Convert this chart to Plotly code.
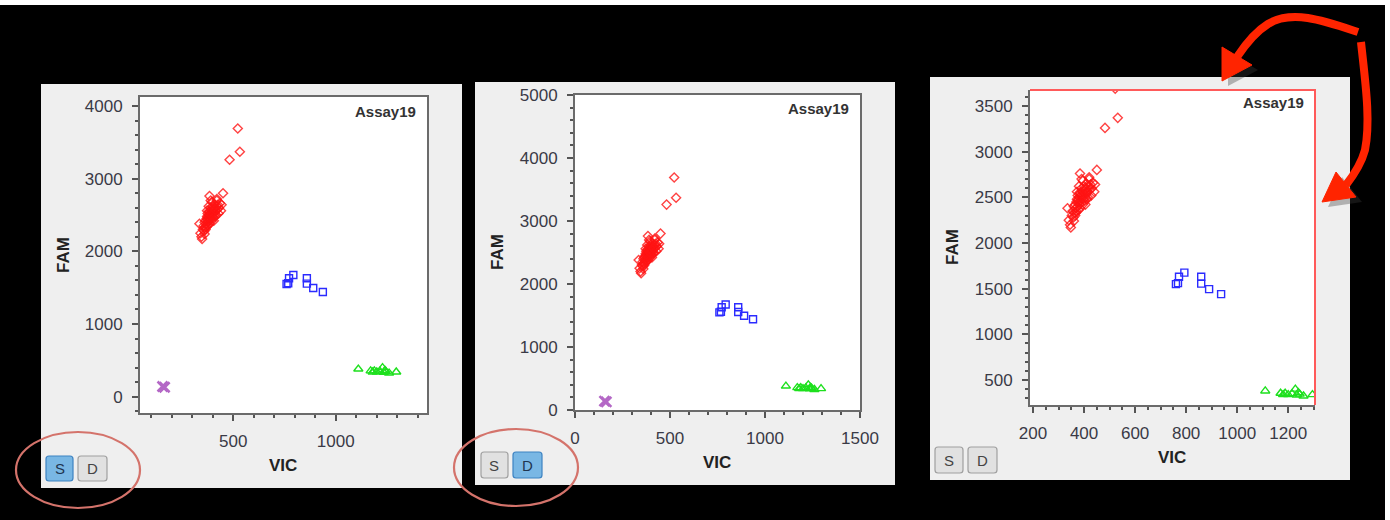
import plotly.graph_objects as go

# ---------------- data ----------------
red_vic = [340, 345, 348, 352, 355, 358, 360, 362, 365, 365, 368, 370, 370, 372, 375,
           375, 378, 378, 380, 380, 382, 385, 385, 388, 390, 390, 392, 395, 395, 398,
           400, 400, 402, 405, 405, 408, 410, 410, 412, 415, 418, 420, 422, 425, 428,
           430, 435, 440, 443, 450, 335, 384, 390, 420, 360, 372, 395, 405, 415, 380,
           368, 376, 386, 394, 402, 412,
           482, 532, 522]
red_fam = [2250, 2200, 2170, 2300, 2350, 2280, 2400, 2330, 2420, 2300, 2380, 2450, 2350, 2480, 2400,
           2520, 2440, 2360, 2500, 2420, 2550, 2460, 2380, 2520, 2600, 2440, 2500, 2560, 2420, 2480,
           2620, 2540, 2460, 2580, 2500, 2650, 2540, 2600, 2480, 2560, 2620, 2700, 2580, 2640, 2520,
           2600, 2660, 2560, 2640, 2800, 2380, 2760, 2700, 2720, 2240, 2560, 2680, 2420, 2500, 2620,
           2330, 2470, 2540, 2500, 2600, 2570,
           3260, 3370, 3690]

blue_vic = [760, 768, 772, 793, 859, 859, 890, 937]
blue_fam = [1550, 1560, 1630, 1675, 1630, 1555, 1495, 1440]

green_vic = [1110, 1170, 1180, 1188, 1200, 1215, 1228, 1234, 1240, 1245, 1260, 1295]
green_fam = [380, 355, 340, 355, 340, 350, 400, 335, 360, 345, 325, 340]

ntc_vic = [155, 165]
ntc_fam = [140, 130]

panel_names = ["Assay19", "Assay19", "Assay19"]
x_titles = ["VIC", "VIC", "VIC"]
y_titles = ["FAM", "FAM", "FAM"]
x_ranges = [[45, 1445], [0, 1500], [188, 1305]]
y_ranges = [[-225, 4124], [0, 5000], [226, 3675]]
x_dticks = [500, 500, 200]
y_dticks = [1000, 1000, 500]
x_minor = [100, 100, 50]
y_minor = [200, 200, 100]
buttons = ["S", "D"]
selected = ["S", "D", None]

# ---------------- layout geometry (pixels) ----------------
W, H = 1390, 520
def px(x):
    return x / W
def py(y):
    return 1 - y / H

plots = [(140, 427, 97, 413), (575, 860, 95, 410), (1030, 1315, 90, 405)]
panels = [(41, 462, 84, 488), (475, 895, 82, 485), (930, 1350, 77, 480)]
btn_boxes = [
    [(46, 456, 73, 481), (78, 456, 107, 481)],
    [(481, 452, 508, 478), (513, 452, 542, 478)],
    [(935, 447, 963, 473), (968, 447, 997, 473)],
]
fam_pos = [(63, 255), (497, 252), (952, 247)]
vic_pos = [(283, 465), (717, 462), (1172, 457)]
assay_pos = [(418, 111), (851, 108), (1306, 103)]

FONT = "Arial, Liberation Sans, sans-serif"
TICKC = "#3a3a46"

fig = go.Figure()
shapes = []
annotations = []
layout = {}

# thin white border of the screenshot (top and right edges)
shapes.append(dict(type="rect", xref="paper", yref="paper", x0=0, x1=1, y0=py(5), y1=1,
                   fillcolor="white", line=dict(width=0), layer="below"))
shapes.append(dict(type="rect", xref="paper", yref="paper", x0=px(1385), x1=1, y0=0, y1=1,
                   fillcolor="white", line=dict(width=0), layer="below"))

for i in range(3):
    n = "" if i == 0 else str(i + 1)
    xa, ya = "x" + n, "y" + n
    fig.add_trace(go.Scatter(x=red_vic, y=red_fam, mode="markers", xaxis=xa, yaxis=ya,
                             marker=dict(symbol="diamond-open", size=7, color="rgba(255,20,20,0.8)",
                                         line=dict(width=1.4)), hoverinfo="skip"))
    fig.add_trace(go.Scatter(x=blue_vic, y=blue_fam, mode="markers", xaxis=xa, yaxis=ya,
                             marker=dict(symbol="square-open", size=7, color="#2b2bff",
                                         line=dict(width=1.4)), hoverinfo="skip"))
    fig.add_trace(go.Scatter(x=green_vic, y=green_fam, mode="markers", xaxis=xa, yaxis=ya,
                             marker=dict(symbol="triangle-up-open", size=8, color="#1ee01e",
                                         line=dict(width=1.4)), hoverinfo="skip"))
    fig.add_trace(go.Scatter(x=ntc_vic, y=ntc_fam, mode="markers", xaxis=xa, yaxis=ya,
                             marker=dict(symbol="x-thin-open", size=10, color="#b468c6",
                                         line=dict(width=2.6)), hoverinfo="skip"))

    x0, x1, y0, y1 = plots[i]
    frame_col = "#6b6b6b"
    mirror = True if i < 2 else False
    common = dict(showgrid=False, zeroline=False, showline=True, linecolor=frame_col, linewidth=2,
                  mirror=mirror, ticks="outside", ticklen=6, tickwidth=1.5, tickcolor="#555",
                  automargin=False,
                  tickfont=dict(family=FONT, size=17, color=TICKC), fixedrange=True)
    layout["xaxis" + n] = dict(common, domain=[px(x0), px(x1)], anchor=ya, range=x_ranges[i],
                               tick0=0, dtick=x_dticks[i], ticklabelstandoff=6,
                               minor=dict(ticks="outside", ticklen=3, tickcolor="#555",
                                          dtick=x_minor[i], tick0=0))
    layout["yaxis" + n] = dict(common, domain=[py(y1), py(y0)], anchor=xa, range=y_ranges[i],
                               tick0=0, dtick=y_dticks[i], ticklabelstandoff=6,
                               minor=dict(ticks="outside", ticklen=3, tickcolor="#555",
                                          dtick=y_minor[i], tick0=0))

    # panel background and white plot area
    a, b, c, d = panels[i]
    shapes.append(dict(type="rect", xref="paper", yref="paper", x0=px(a), x1=px(b), y0=py(d), y1=py(c),
                       fillcolor="#efefef", line=dict(width=0), layer="below"))
    shapes.append(dict(type="rect", xref="paper", yref="paper", x0=px(x0), x1=px(x1), y0=py(y1), y1=py(y0),
                       fillcolor="white", line=dict(width=0), layer="below"))

    annotations.append(dict(text="<b>%s</b>" % panel_names[i], xref="paper", yref="paper",
                            x=px(assay_pos[i][0]), y=py(assay_pos[i][1]), xanchor="right", yanchor="middle",
                            showarrow=False, font=dict(family=FONT, size=15, color="#333")))
    annotations.append(dict(text="<b>%s</b>" % y_titles[i], xref="paper", yref="paper",
                            x=px(fam_pos[i][0]), y=py(fam_pos[i][1]), xanchor="center", yanchor="middle",
                            textangle=-90, showarrow=False, font=dict(family=FONT, size=17, color="#222")))
    annotations.append(dict(text="<b>%s</b>" % x_titles[i], xref="paper", yref="paper",
                            x=px(vic_pos[i][0]), y=py(vic_pos[i][1]), xanchor="center", yanchor="middle",
                            showarrow=False, font=dict(family=FONT, size=17, color="#222")))

    # buttons
    for lab, (bx0, by0, bx1, by1) in zip(buttons, btn_boxes[i]):
        sel = (selected[i] == lab)
        r = 3
        path = ("M{},{} L{},{} Q{},{} {},{} L{},{} Q{},{} {},{} L{},{} Q{},{} {},{} L{},{} Q{},{} {},{} Z"
                .format(px(bx0 + r), py(by0), px(bx1 - r), py(by0), px(bx1), py(by0), px(bx1), py(by0 + r),
                        px(bx1), py(by1 - r), px(bx1), py(by1), px(bx1 - r), py(by1),
                        px(bx0 + r), py(by1), px(bx0), py(by1), px(bx0), py(by1 - r),
                        px(bx0), py(by0 + r), px(bx0), py(by0), px(bx0 + r), py(by0)))
        shapes.append(dict(type="path", xref="paper", yref="paper", path=path,
                           fillcolor="#79b7e4" if sel else "#e1e1e1",
                           line=dict(color="#3d83c2" if sel else "#a0a0a0", width=1.2), layer="above"))
        annotations.append(dict(text=lab, xref="paper", yref="paper", x=px((bx0 + bx1) / 2),
                                y=py((by0 + by1) / 2), xanchor="center", yanchor="middle", showarrow=False,
                                font=dict(family=FONT, size=15, color="#1f3550" if sel else "#444")))

# red highlight frame on the third plot (top and right edges)
x0, x1, y0, y1 = plots[2]
shapes.append(dict(type="path", xref="paper", yref="paper",
                   path="M{},{} L{},{} L{},{}".format(px(x0), py(y0), px(x1), py(y0), px(x1), py(y1)),
                   line=dict(color="#ff5a5a", width=2), layer="above"))

# red ellipses around the S/D buttons
for (ex0, ey0, ex1, ey1) in [(16, 432, 140, 508), (454, 429, 578, 506)]:
    shapes.append(dict(type="circle", xref="paper", yref="paper", x0=px(ex0), x1=px(ex1),
                       y0=py(ey1), y1=py(ey0), line=dict(color="#d4736b", width=2.2), layer="above"))

# curved red arrows
def P(x, y):
    return "{},{}".format(px(x), py(y))

ARROW = "#ff2400"
heads = [[(1222, 47), (1252, 65), (1222, 81)], [(1336, 172), (1356, 197), (1322, 202)]]
for hd in heads:
    sh = "M" + " L".join(P(x + 6, y + 5) for x, y in hd) + " Z"
    shapes.append(dict(type="path", xref="paper", yref="paper", path=sh,
                       fillcolor="rgba(60,60,60,0.35)", line=dict(width=0), layer="above"))
shaft1 = "M{} C{} {} {} C{} {} {}".format(P(1358, 32), P(1325, 21), P(1292, 9), P(1268, 24),
                                         P(1255, 32), P(1245, 45), P(1237, 57))
shaft2 = "M{} C{} {} {} C{} {} {}".format(P(1361, 42), P(1365, 80), P(1371, 120), P(1365, 150),
                                         P(1361, 165), P(1353, 176), P(1346, 185))
for s in [shaft1, shaft2]:
    shapes.append(dict(type="path", xref="paper", yref="paper", path=s,
                       line=dict(color=ARROW, width=8), layer="above"))
for hd in heads:
    hp = "M" + " L".join(P(x, y) for x, y in hd) + " Z"
    shapes.append(dict(type="path", xref="paper", yref="paper", path=hp,
                       fillcolor=ARROW, line=dict(color=ARROW, width=1), layer="above"))

fig.update_layout(**layout)
fig.update_layout(width=W, height=H, margin=dict(l=0, r=0, t=0, b=0, pad=0, autoexpand=False),
                  paper_bgcolor="black", plot_bgcolor="rgba(0,0,0,0)", showlegend=False,
                  shapes=shapes, annotations=annotations)
fig.write_html("out.html", config={"displayModeBar": False},
               post_script="document.body.style.margin='0';document.body.style.background='black';")
